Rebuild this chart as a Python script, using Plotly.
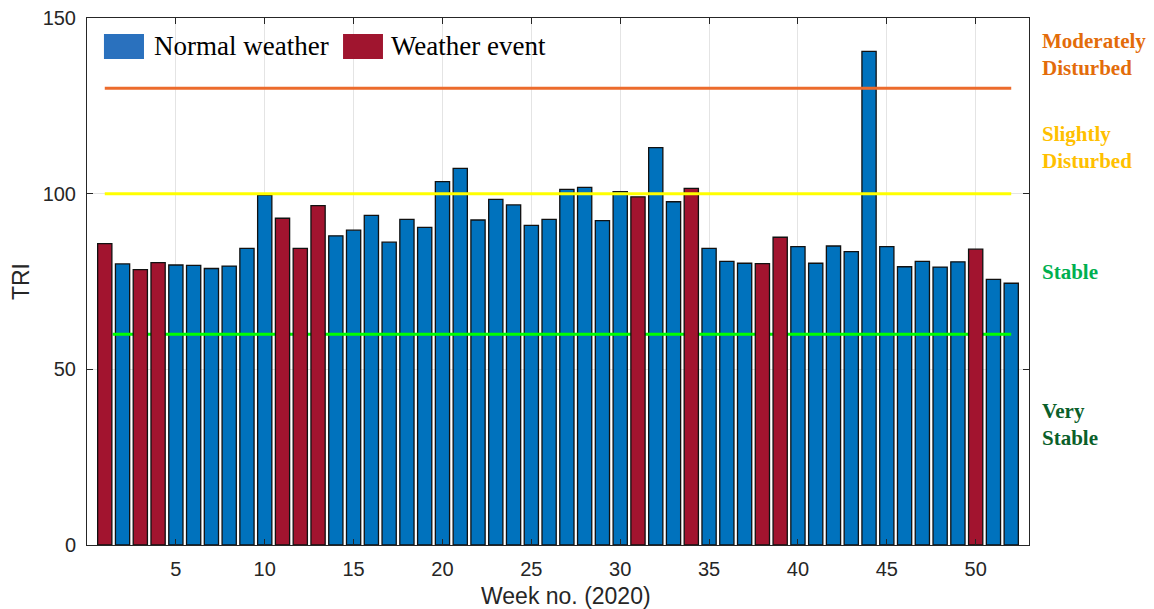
import plotly.graph_objects as go

# ---------------- data ----------------
weeks = list(range(1, 53))
tri = [85.8, 80.0, 78.4, 80.4, 79.7, 79.6, 78.7, 79.4, 84.4, 99.6,
       93.0, 84.4, 96.6, 88.0, 89.6, 93.8, 86.2, 92.7, 90.4, 103.4,
       107.2, 92.5, 98.4, 96.8, 91.0, 92.7, 101.2, 101.8, 92.3, 100.6,
       99.1, 113.1, 97.7, 101.5, 84.4, 80.7, 80.2, 80.1, 87.6, 84.9,
       80.2, 85.1, 83.5, 140.5, 84.9, 79.2, 80.7, 79.1, 80.6, 84.2,
       75.6, 74.5]
event_weeks = [1, 3, 4, 11, 12, 13, 31, 34, 38, 39, 50]
series_names = ["Normal weather", "Weather event"]

x_ticks = [5, 10, 15, 20, 25, 30, 35, 40, 45, 50]
y_ticks = [0, 50, 100, 150]

stable_limit = 60
slight_limit = 100
moderate_limit = 130
zone_labels = ["Moderately<br>Disturbed", "Slightly<br>Disturbed", "Stable", "Very<br>Stable"]
zone_label_y = [139.5, 113.0, 77.7, 34.2]

# ---------------- styles ----------------
BLUE = "#0072BD"
RED = "#A2142F"
LEG_BLUE = "#2A71BE"
LEG_RED = "#A0152F"
zone_colors = ["#E36C0A", "#FFC000", "#00B050", "#0B5F2A"]
AX = "#262626"

normal_x = [w for w in weeks if w not in event_weeks]
normal_y = [v for w, v in zip(weeks, tri) if w not in event_weeks]
event_x = [w for w in weeks if w in event_weeks]
event_y = [v for w, v in zip(weeks, tri) if w in event_weeks]

fig = go.Figure()

fig.add_trace(go.Bar(x=normal_x, y=normal_y, name=series_names[0], width=0.8,
                     marker=dict(color=BLUE, line=dict(color="#111111", width=1.3)),
                     xaxis="x", yaxis="y", showlegend=False))
fig.add_trace(go.Scatter(x=[1.45, weeks[-1]], y=[stable_limit] * 2, mode="lines",
                         line=dict(color="#00FF00", width=3),
                         xaxis="x", yaxis="y", showlegend=False))
fig.add_trace(go.Bar(x=event_x, y=event_y, name=series_names[1], width=0.8,
                     marker=dict(color=RED, line=dict(color="#111111", width=1.3)),
                     xaxis="x2", yaxis="y2", showlegend=False))
fig.add_trace(go.Scatter(x=[weeks[0], weeks[-1]], y=[slight_limit] * 2, mode="lines",
                         line=dict(color="#FFFF00", width=3),
                         xaxis="x2", yaxis="y2", showlegend=False))
fig.add_trace(go.Scatter(x=[weeks[0], weeks[-1]], y=[moderate_limit] * 2, mode="lines",
                         line=dict(color="#EC6B2C", width=3),
                         xaxis="x2", yaxis="y2", showlegend=False))

tickfont = dict(family="Liberation Sans, Arial, sans-serif", size=20, color=AX)

fig.update_layout(
    width=1154, height=609,
    margin=dict(l=87, r=125, t=18, b=64, autoexpand=False),
    paper_bgcolor="white", plot_bgcolor="white",
    bargap=0.2,
    xaxis=dict(range=[0, 53], tickvals=x_ticks, ticks="inside", ticklen=6,
               tickcolor=AX, showline=True, linecolor=AX, linewidth=1,
               mirror="ticks", showgrid=True, gridcolor="#E4E4E4", gridwidth=1,
               zeroline=False, tickfont=tickfont, ticklabelstandoff=6,
               automargin=False),
    yaxis=dict(range=[0, 150], tickvals=y_ticks, ticks="inside", ticklen=6,
               tickcolor=AX, showline=True, linecolor=AX, linewidth=1,
               mirror="ticks", showgrid=True, gridcolor="#E4E4E4", gridwidth=1,
               zeroline=False, tickfont=tickfont, ticklabelstandoff=6,
               automargin=False),
    xaxis2=dict(range=[0, 53], overlaying="x", visible=False, automargin=False),
    yaxis2=dict(range=[0, 150], overlaying="y", visible=False, automargin=False),
)

# axis titles
fig.add_annotation(text="Week no. (2020)", xref="paper", yref="paper",
                   x=0.5085, y=-0.097, xanchor="center", yanchor="middle",
                   showarrow=False, font=dict(family="Liberation Sans, Arial", size=23, color=AX))
fig.add_annotation(text="TRI", xref="paper", yref="paper", textangle=-90,
                   x=-0.0705, y=0.5, xanchor="center", yanchor="middle",
                   showarrow=False, font=dict(family="Liberation Sans, Arial", size=23, color=AX))

# custom legend
serif = "Liberation Serif, Times New Roman, serif"
fig.add_shape(type="rect", xref="paper", yref="paper", x0=0.0180, x1=0.0605,
              y0=0.9222, y1=0.9696, fillcolor=LEG_BLUE, line=dict(width=0))
fig.add_shape(type="rect", xref="paper", yref="paper", x0=0.2718, x1=0.3142,
              y0=0.9222, y1=0.9696, fillcolor=LEG_RED, line=dict(width=0))
fig.add_annotation(text=series_names[0], xref="paper", yref="paper", x=0.0695, y=0.946,
                   xanchor="left", yanchor="middle", showarrow=False,
                   font=dict(family=serif, size=27, color="black"))
fig.add_annotation(text=series_names[1], xref="paper", yref="paper", x=0.3208, y=0.946,
                   xanchor="left", yanchor="middle", showarrow=False,
                   font=dict(family=serif, size=27, color="black"))

# zone labels
for txt, yv, col in zip(zone_labels, zone_label_y, zone_colors):
    fig.add_annotation(text="<b>" + txt + "</b>", xref="paper", yref="y", x=1.012, y=yv,
                       xanchor="left", yanchor="middle", align="left", showarrow=False,
                       font=dict(family=serif, size=21, color=col))

fig.write_html("out.html")
